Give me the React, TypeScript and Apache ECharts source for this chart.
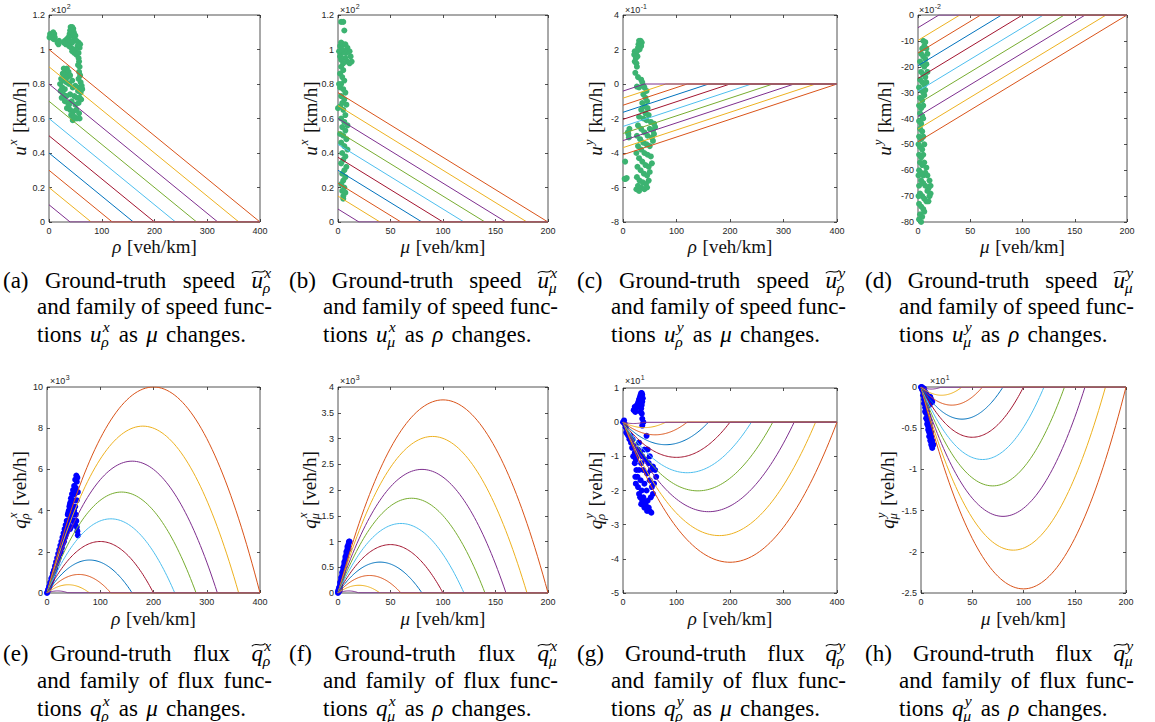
import React, { useEffect, useRef } from 'react';
import * as echarts from 'echarts';

// ---------- data ----------
const COLORS = ['#D95319', '#EDB120', '#7E2F8E', '#77AC30', '#4DBEEE', '#A2142F', '#0072BD', '#D95319', '#EDB120', '#7E2F8E'];
const GREEN = '#3CB371';
const BLUE = '#0000FF';

const RHO_ROOTS = [400, 360, 320, 280, 240, 200, 160, 120, 80, 40];
const MU_ROOTS = [200, 180, 160, 140, 120, 100, 80, 60, 40, 20];

const UX_RHO_INTERCEPTS = [1.0, 0.9, 0.8, 0.7, 0.6, 0.5, 0.4, 0.3, 0.2, 0.1];
const UX_MU_INTERCEPTS = [0.75, 0.675, 0.6, 0.525, 0.45, 0.375, 0.3, 0.225, 0.15, 0.075];
const UY_RHO_INTERCEPTS = [-4.1, -3.69, -3.28, -2.87, -2.46, -2.05, -1.64, -1.23, -0.82, -0.41];
const UY_MU_INTERCEPTS = [-49, -44.1, -39.2, -34.3, -29.4, -24.5, -19.6, -14.7, -9.8, -4.9];

const QX_RHO_PEAKS = [10, 8.1, 6.4, 4.9, 3.6, 2.5, 1.6, 0.9, 0.4, 0.1];
const QX_MU_PEAKS = [3.75, 3.04, 2.4, 1.84, 1.35, 0.94, 0.6, 0.34, 0.15, 0.04];
const QY_RHO_PEAKS = [-4.1, -3.32, -2.62, -2.01, -1.48, -1.03, -0.66, -0.37, -0.16, -0.04];
const QY_MU_PEAKS = [-2.45, -1.98, -1.57, -1.2, -0.88, -0.61, -0.39, -0.22, -0.1, -0.025];

const GT_UX_RHO = [
  [1, 1.07], [2, 1.09], [4, 1.08], [6, 1.09], [8, 1.1], [10, 1.09], [11, 1.07], [9, 1.06], [5, 1.07],
  [16, 1.04], [18, 1.03], [19, 1.05],
  [41, 1.13], [44, 1.13], [46, 1.12], [40, 1.11], [43, 1.11], [47, 1.1], [39, 1.09], [42, 1.09], [45, 1.08], [50, 1.08],
  [37, 1.07], [48, 1.06], [52, 1.05], [30, 1.05], [34, 1.06], [28, 1.04], [32, 1.03], [36, 1.04], [40, 1.05], [44, 1.04],
  [56, 1.04], [59, 1.03], [58, 1.01], [54, 1.02], [38, 1.02], [42, 1.01], [46, 1.0], [50, 1.0], [44, 0.99], [48, 0.98],
  [52, 0.97], [56, 0.98],
  [56, 0.95], [57, 0.93], [55, 0.91], [58, 0.9], [57, 0.87], [59, 0.85], [56, 0.83], [60, 0.81], [62, 0.79], [58, 0.78],
  [28, 0.89], [31, 0.88], [34, 0.89], [37, 0.87], [26, 0.86], [30, 0.85], [35, 0.84], [40, 0.85], [23, 0.83], [28, 0.82],
  [33, 0.81], [38, 0.8], [44, 0.82], [21, 0.8], [25, 0.78], [30, 0.77], [45, 0.78], [50, 0.79], [55, 0.76], [60, 0.75],
  [63, 0.77], [22, 0.76], [27, 0.74], [33, 0.73], [40, 0.74], [48, 0.73], [53, 0.72], [58, 0.72], [24, 0.72], [30, 0.7],
  [36, 0.69], [43, 0.7], [50, 0.68], [56, 0.69], [61, 0.71], [34, 0.66], [40, 0.65], [46, 0.64], [52, 0.65], [57, 0.63],
  [42, 0.62], [48, 0.61], [53, 0.6], [58, 0.6], [45, 0.59], [38, 0.68], [31, 0.73],
];

const GT_UX_MU = [
  [3, 1.16], [5, 1.16], [6, 1.11],
  [2, 1.02], [3, 1.04], [5, 1.03], [7, 1.03], [9, 1.01], [11, 0.99], [12, 0.96], [13, 0.93], [11, 0.92], [9, 0.93],
  [7, 0.95], [8, 0.98], [6, 0.99], [4, 0.98], [2, 0.96], [3, 0.94], [5, 0.92], [4, 1.0], [1, 0.99],
  [3, 0.9], [5, 0.88], [2, 0.86], [4, 0.84], [6, 0.82], [3, 0.8], [1, 0.8], [2, 0.78], [5, 0.77], [7, 0.75], [3, 0.73],
  [6, 0.71], [4, 0.69], [8, 0.68], [2, 0.67], [0, 0.66], [5, 0.65], [7, 0.62], [3, 0.6], [6, 0.58], [9, 0.56], [4, 0.55],
  [7, 0.53], [2, 0.51], [5, 0.5], [8, 0.48], [3, 0.46], [6, 0.44], [9, 0.42], [4, 0.4], [7, 0.38], [5, 0.36], [3, 0.34],
  [8, 0.32], [6, 0.3], [4, 0.28], [7, 0.26], [5, 0.24], [3, 0.22], [6, 0.2], [4, 0.18], [7, 0.17], [5, 0.15], [5, 0.135],
];

const GT_UY_RHO = [
  [30, 2.5], [33, 2.5], [35, 2.4], [29, 2.3], [32, 2.3], [34, 2.2], [28, 2.1], [31, 2.0], [22, 1.9], [24, 1.8], [21, 1.7],
  [26, 1.9], [27, 1.6], [24, 1.5], [22, 1.3], [25, 1.2], [26, 1.0], [23, 0.65], [28, 0.4], [34, 0.25], [36, 0.1],
  [26, -0.15], [30, -0.2], [38, -0.1],
  [40, -0.2], [44, -0.4], [38, -0.6], [42, -0.8], [45, -1.0], [36, -1.1], [40, -1.3], [46, -1.4], [34, -1.5], [42, -1.7],
  [48, -1.8], [30, -1.9], [38, -2.0], [44, -2.1], [52, -2.2], [58, -2.3], [60, -2.5], [56, -2.7], [50, -2.6], [28, -2.4],
  [34, -2.6], [40, -2.8], [46, -3.0], [54, -3.1], [58, -2.9], [26, -3.0], [32, -3.2], [38, -3.4], [44, -3.5], [50, -3.6],
  [56, -3.3], [28, -3.6], [34, -3.8], [40, -4.0], [46, -4.1], [52, -4.2], [25, -4.0], [30, -4.3], [36, -4.5], [42, -4.7],
  [48, -4.8], [54, -4.6], [27, -4.8], [33, -5.0], [39, -5.2], [45, -5.3], [50, -5.1], [26, -5.4], [31, -5.6], [37, -5.7],
  [43, -5.8], [48, -5.6], [28, -5.9], [34, -6.0], [40, -6.1], [45, -6.0], [25, -6.1], [30, -6.2],
  [12, -2.6], [10, -2.9], [11, -3.1], [9, -2.8], [4, -4.5], [3, -5.5], [5, -5.5], [7, -5.45],
];

const GT_UY_MU = [
  [5, -10], [7, -10.5], [6, -12], [8, -13], [4, -13], [3, -15], [5, -16], [7, -17], [9, -15], [2, -18], [4, -19], [6, -20],
  [8, -19], [3, -22], [5, -23], [7, -24], [9, -22], [2, -25], [4, -26], [6, -27], [8, -26], [1, -28], [3, -29], [5, -30],
  [7, -29], [2, -32], [4, -33], [6, -31],
  [1, -35], [3, -36], [5, -35], [2, -38], [4, -39], [1, -41], [3, -42], [5, -40], [2, -44], [4, -45], [1, -47], [3, -48],
  [5, -47], [0.5, -50], [2, -51], [4, -52], [6, -50], [1, -54], [3, -55], [5, -54],
  [2, -57], [4, -58], [6, -57], [8, -59], [1, -60], [3, -61], [5, -62], [7, -61], [9, -62], [11, -64], [12, -66], [10, -67],
  [12, -69], [11, -70], [9, -68], [7, -66], [5, -65], [3, -64], [1, -66], [2, -69], [4, -70], [6, -71], [8, -72], [10, -72],
  [1, -73], [3, -74], [5, -75], [2, -77], [4, -78], [1, -79], [3, -80], [6, -76], [0.5, -62], [0.5, -70],
];

const GT_QX_RHO = [
  [0, 0], [1, 0.05], [2, 0.15], [3, 0.2], [4, 0.3], [5, 0.35], [6, 0.5], [7, 0.5], [8, 0.7], [9, 0.65], [10, 0.8],
  [11, 0.95], [12, 0.9], [13, 1.1], [14, 1.05], [15, 1.3], [16, 1.2], [17, 1.5], [18, 1.4], [19, 1.7], [20, 1.55],
  [21, 1.9], [22, 1.7], [23, 2.1], [24, 1.9], [25, 2.3], [26, 2.0], [27, 2.5], [28, 2.2], [29, 2.7], [30, 2.4], [31, 2.9],
  [32, 2.5], [33, 3.1], [34, 2.7], [35, 3.3], [36, 2.9], [37, 3.5], [38, 3.0], [39, 3.8], [40, 3.3], [41, 4.0], [42, 3.5],
  [43, 4.3], [44, 3.7], [45, 4.6], [46, 3.9], [47, 4.8], [48, 4.2], [49, 5.0], [50, 4.5], [51, 5.2], [52, 4.8], [53, 5.5],
  [54, 5.1], [55, 5.7], [56, 5.4], [57, 5.6], [55, 3.5], [56, 3.2], [57, 3.0], [58, 2.8], [54, 3.8], [53, 4.2], [56, 4.5],
  [58, 4.9], [45, 3.2], [48, 3.5], [50, 3.8], [52, 3.5], [42, 4.2], [44, 4.4], [40, 3.9], [37, 3.2], [35, 2.8], [43, 3.1],
  [47, 4.5], [51, 4.0], [53, 3.3],
];

const GT_QX_MU = [
  [0, 0], [0.5, 0.02], [1, 0.05], [1, 0.1], [1.5, 0.12], [2, 0.15], [2, 0.2], [2.5, 0.22], [3, 0.25], [3, 0.3], [3.5, 0.3],
  [4, 0.35], [4, 0.4], [4.5, 0.4], [5, 0.45], [5, 0.5], [5.5, 0.5], [6, 0.55], [6, 0.6], [6.5, 0.6], [7, 0.65], [7, 0.7],
  [7.5, 0.7], [8, 0.75], [8, 0.8], [8.5, 0.8], [9, 0.85], [9, 0.9], [9.5, 0.9], [10, 0.95], [10.5, 1.0], [11, 1.0],
  [10, 0.85], [0, 0.03], [0.5, 0.06], [1.5, 0.04], [2, 0.08],
];

const GT_QY_RHO = [
  [0, 0], [2, 0.05], [3, -0.05], [5, -0.15], [6, -0.3], [8, -0.35], [10, -0.4],
  [22, 0.45], [24, 0.4], [20, 0.35], [23, 0.3], [26, 0.5], [28, 0.55], [29, 0.6], [30, 0.65], [31, 0.7], [32, 0.75],
  [33, 0.8], [34, 0.85], [35, 0.85], [36, 0.8], [37, 0.7], [36, 0.6], [35, 0.5], [34, 0.4], [33, 0.3], [35, 0.25],
  [36, 0.1], [38, 0.0], [36, -0.1], [30, 0.6], [28, 0.45],
  [12, -0.5], [15, -0.6], [17, -0.75], [14, -0.4], [18, -0.5], [20, -0.7], [22, -0.9], [19, -1.0], [24, -1.1], [22, -1.2],
  [26, -1.0], [28, -0.8], [30, -0.6], [32, -0.9], [34, -1.2], [25, -1.4], [23, -1.6], [24, -1.8], [27, -1.6], [30, -1.4],
  [36, -1.0], [40, -0.8], [42, -1.1], [38, -1.4], [33, -1.7], [28, -1.9], [30, -2.1], [35, -2.0], [40, -1.8], [45, -1.5],
  [48, -1.2], [52, -1.4], [56, -1.3], [60, -1.4], [62, -1.6], [58, -1.8], [54, -1.9], [50, -1.7], [44, -2.0], [38, -2.2],
  [34, -2.4], [42, -2.4], [46, -2.3], [52, -2.2], [56, -2.1], [48, -2.5], [50, -2.6], [53, -2.65], [45, -2.6], [40, -2.5],
  [36, -2.3], [32, -2.2], [44, -0.4], [46, -0.8], [50, -1.0],
];

const GT_QY_MU = [
  [0, 0], [0.5, -0.01], [1, 0], [1, -0.03], [2, -0.05], [3, -0.02], [4, -0.06], [5, -0.08], [6, -0.1], [7, -0.12],
  [8, -0.14], [9, -0.12], [10, -0.15], [11, -0.18], [9, -0.2], [8, -0.22], [2, -0.1], [3, -0.15], [3, -0.2], [4, -0.25],
  [4, -0.3], [5, -0.32], [5, -0.38], [6, -0.4], [6, -0.45], [7, -0.48], [7, -0.52], [8, -0.55], [8, -0.6], [9, -0.6],
  [9, -0.65], [10, -0.66], [10, -0.7], [11, -0.72], [11, -0.74], [10, -0.55], [9, -0.5], [7, -0.35], [6, -0.3], [5, -0.25],
  [8, -0.4], [9, -0.45], [10, -0.6], [11, -0.65], [12, -0.7],
];

const RHO_AXIS = [0, 400, 100];
const MU_AXIS = [0, 200, 50];

// ---------- styling / layout ----------
const SERIF = 'Liberation Serif';
const SANS = 'Liberation Sans';
const AX = '#262626';
const TXT = '#111111';

type Tok = { t: string; it?: boolean; sup?: string; sub?: string; tilde?: boolean };

function fontStr(size: number, italic: boolean, family: string) {
  return `${italic ? 'italic ' : ''}${size}px "${family}"`;
}
let ctx: CanvasRenderingContext2D | null = null;
function tw(text: string, size: number, italic: boolean, family = SERIF) {
  if (!ctx) ctx = document.createElement('canvas').getContext('2d');
  ctx!.font = fontStr(size, italic, family);
  return ctx!.measureText(text).width;
}
function txt(text: string, x: number, y: number, size: number, italic: boolean, color: string, family = SERIF, align = 'left') {
  return {
    type: 'text', x, y, silent: true,
    style: { text, font: fontStr(size, italic, family), fill: color, align, verticalAlign: 'middle' },
  };
}
const SUP = 0.68;
function tokW(k: Tok, fs: number) {
  const base = tw(k.t, fs, !!k.it);
  const s = fs * SUP;
  const ex = Math.max(k.sup ? tw(k.sup, s, true) + fs * 0.05 : 0, k.sub ? tw(k.sub, s, true) : 0);
  return base + (ex ? ex + fs * 0.04 : 0);
}
function tokEls(k: Tok, x: number, y: number, fs: number, color: string) {
  const els: any[] = [txt(k.t, x, y, fs, !!k.it, color)];
  const bw = tw(k.t, fs, !!k.it);
  const s = fs * SUP;
  if (k.tilde) {
    const cx = x + bw / 2 + fs * 0.06;
    const w = fs * 0.56;
    const a = fs * 0.05;
    const yt = y - fs * 0.36;
    els.push({
      type: 'bezierCurve', silent: true,
      shape: { x1: cx - w / 2, y1: yt + a, cpx1: cx - w / 6, cpy1: yt - 2.6 * a, cpx2: cx + w / 6, cpy2: yt + 2.6 * a, x2: cx + w / 2, y2: yt - a },
      style: { stroke: color, lineWidth: 1.1, fill: null, lineCap: 'round' },
    });
  }
  if (k.sup) els.push(txt(k.sup, x + bw + fs * 0.05, y - fs * 0.33, s, true, color));
  if (k.sub) els.push(txt(k.sub, x + bw - fs * 0.01, y + fs * 0.31, s, true, color));
  return els;
}
function placeTokens(toks: Tok[], fs: number, x0: number, gap: number, y: number, color: string) {
  const els: any[] = [];
  let x = x0;
  toks.forEach((k) => {
    els.push(...tokEls(k, x, y, fs, color));
    x += tokW(k, fs) + gap;
  });
  return els;
}
function naturalWidth(toks: Tok[], fs: number, gap: number) {
  return toks.reduce((s, k) => s + tokW(k, fs), 0) + gap * (toks.length - 1);
}
function justify(toks: Tok[], fs: number, x0: number, x1: number, y: number, color: string) {
  const sum = toks.reduce((s, k) => s + tokW(k, fs), 0);
  const gap = (x1 - x0 - sum) / (toks.length - 1);
  return placeTokens(toks, fs, x0, gap, y, color);
}

const W = (s: string): Tok => ({ t: s });

type Panel = {
  g: number[]; x: number[]; y: number[]; exp: string; expX: number; expY: number;
  kind: 'speed' | 'flux'; params: number[]; roots: number[]; gt: number[][]; gtColor: string;
  xname: string; yname: Tok; ynameX: number; nameY: number;
  cap: { lab: string; col: number; row: number; base: string; sup: string; sub: string; word: string; param: string };
};

const PANELS: Panel[] = [
  { g: [49, 15, 211, 207], x: RHO_AXIS, y: [0, 1.2, 0.2], exp: '2', expX: 51, expY: 10, kind: 'speed', params: UX_RHO_INTERCEPTS, roots: RHO_ROOTS, gt: GT_UX_RHO, gtColor: GREEN, xname: 'ρ', yname: { t: 'u', it: true, sup: 'x' }, ynameX: 19, nameY: 246, cap: { lab: '(a)', col: 0, row: 0, base: 'u', sup: 'x', sub: 'ρ', word: 'speed', param: 'μ' } },
  { g: [338, 15, 210, 207], x: MU_AXIS, y: [0, 1.2, 0.2], exp: '2', expX: 340, expY: 10, kind: 'speed', params: UX_MU_INTERCEPTS, roots: MU_ROOTS, gt: GT_UX_MU, gtColor: GREEN, xname: 'μ', yname: { t: 'u', it: true, sup: 'x' }, ynameX: 310, nameY: 246, cap: { lab: '(b)', col: 1, row: 0, base: 'u', sup: 'x', sub: 'μ', word: 'speed', param: 'ρ' } },
  { g: [623, 15, 214, 207], x: RHO_AXIS, y: [-8, 4, 2], exp: '-1', expX: 625, expY: 10, kind: 'speed', params: UY_RHO_INTERCEPTS, roots: RHO_ROOTS, gt: GT_UY_RHO, gtColor: GREEN, xname: 'ρ', yname: { t: 'u', it: true, sup: 'y' }, ynameX: 595, nameY: 246, cap: { lab: '(c)', col: 2, row: 0, base: 'u', sup: 'y', sub: 'ρ', word: 'speed', param: 'μ' } },
  { g: [918, 15, 209, 207], x: MU_AXIS, y: [-80, 0, 10], exp: '-2', expX: 919, expY: 10, kind: 'speed', params: UY_MU_INTERCEPTS, roots: MU_ROOTS, gt: GT_UY_MU, gtColor: GREEN, xname: 'μ', yname: { t: 'u', it: true, sup: 'y' }, ynameX: 884, nameY: 246, cap: { lab: '(d)', col: 3, row: 0, base: 'u', sup: 'y', sub: 'μ', word: 'speed', param: 'ρ' } },
  { g: [47, 387, 213, 206], x: RHO_AXIS, y: [0, 10, 2], exp: '3', expX: 50, expY: 381, kind: 'flux', params: QX_RHO_PEAKS, roots: RHO_ROOTS, gt: GT_QX_RHO, gtColor: BLUE, xname: 'ρ', yname: { t: 'q', it: true, sup: 'x', sub: 'ρ' }, ynameX: 19, nameY: 618, cap: { lab: '(e)', col: 0, row: 1, base: 'q', sup: 'x', sub: 'ρ', word: 'flux', param: 'μ' } },
  { g: [338, 387, 210, 206], x: MU_AXIS, y: [0, 4, 0.5], exp: '3', expX: 340, expY: 381, kind: 'flux', params: QX_MU_PEAKS, roots: MU_ROOTS, gt: GT_QX_MU, gtColor: BLUE, xname: 'μ', yname: { t: 'q', it: true, sup: 'x', sub: 'μ' }, ynameX: 309, nameY: 618, cap: { lab: '(f)', col: 1, row: 1, base: 'q', sup: 'x', sub: 'μ', word: 'flux', param: 'ρ' } },
  { g: [623, 388, 214, 205], x: RHO_AXIS, y: [-5, 1, 1], exp: '1', expX: 625, expY: 381, kind: 'flux', params: QY_RHO_PEAKS, roots: RHO_ROOTS, gt: GT_QY_RHO, gtColor: BLUE, xname: 'ρ', yname: { t: 'q', it: true, sup: 'y', sub: 'ρ' }, ynameX: 595, nameY: 618, cap: { lab: '(g)', col: 2, row: 1, base: 'q', sup: 'y', sub: 'ρ', word: 'flux', param: 'μ' } },
  { g: [921, 387, 205, 206], x: MU_AXIS, y: [-2.5, 0, 0.5], exp: '1', expX: 930, expY: 381, kind: 'flux', params: QY_MU_PEAKS, roots: MU_ROOTS, gt: GT_QY_MU, gtColor: BLUE, xname: 'μ', yname: { t: 'q', it: true, sup: 'y', sub: 'μ' }, ynameX: 887, nameY: 618, cap: { lab: '(h)', col: 3, row: 1, base: 'q', sup: 'y', sub: 'μ', word: 'flux', param: 'ρ' } },
];

const CAP_X0 = [3, 289, 577, 865];
const CAP_Y = [[280, 306, 334], [653, 680, 708]];
const CAP_FS = 23;
const NAME_FS = 19;

function fmt(v: number) {
  return String(Math.round(v * 1000) / 1000);
}

function buildSeries(p: Panel, i: number) {
  const out: any[] = [];
  out.push({
    type: 'scatter', xAxisIndex: 2 * i, yAxisIndex: 2 * i, data: p.gt, symbol: 'circle', symbolSize: 6,
    itemStyle: { color: p.gtColor, opacity: 1 }, silent: true, z: 2,
  });
  const xmax = p.x[1];
  p.params.forEach((v, k) => {
    const r = p.roots[k];
    let data: number[][];
    if (p.kind === 'speed') {
      data = [[0, v], [r, 0], [xmax, 0]];
    } else {
      data = [];
      const N = 80;
      for (let j = 0; j <= N; j++) {
        const xx = (r * j) / N;
        data.push([xx, 4 * v * (xx / r) * (1 - xx / r)]);
      }
      if (r < xmax) data.push([xmax, 0]);
    }
    out.push({
      type: 'line', xAxisIndex: 2 * i, yAxisIndex: 2 * i, data, showSymbol: false, symbol: 'none',
      lineStyle: { color: COLORS[k], width: 1 }, itemStyle: { color: COLORS[k] }, silent: true, z: 3,
    });
  });
  return out;
}

function buildGraphics() {
  const els: any[] = [];
  PANELS.forEach((p) => {
    const [gl, gt, gw, gh] = p.g;
    const xt: Tok[] = [{ t: p.xname, it: true }, W('[veh/km]')];
    const gap = NAME_FS * 0.3;
    const xw = naturalWidth(xt, NAME_FS, gap);
    els.push(...placeTokens(xt, NAME_FS, gl + gw / 2 - xw / 2, gap, p.nameY, TXT));
    const yt: Tok[] = [p.yname, W(p.kind === 'speed' ? '[km/h]' : '[veh/h]')];
    const yw = naturalWidth(yt, NAME_FS, gap);
    els.push({
      type: 'group', x: p.ynameX, y: gt + gh / 2, rotation: Math.PI / 2, silent: true,
      children: placeTokens(yt, NAME_FS, -yw / 2, gap, 0, TXT),
    });
    const ew = tw('×10', 9, false, SANS);
    els.push(txt('×10', p.expX, p.expY, 9, false, AX, SANS));
    els.push(txt(p.exp, p.expX + ew + 0.5, p.expY - 4, 7, false, AX, SANS));
    const c = p.cap;
    const x0 = CAP_X0[c.col];
    const xi = x0 + 34;
    const x1 = x0 + 269;
    const ys = CAP_Y[c.row];
    const l1: Tok[] = [W(c.lab), W('Ground-truth'), W(c.word), { t: c.base, it: true, tilde: true, sup: c.sup, sub: c.sub }];
    const l2: Tok[] = [W('and'), W('family'), W('of'), W(c.word), W('func-')];
    const l3: Tok[] = [W('tions'), { t: c.base, it: true, sup: c.sup, sub: c.sub }, W('as'), { t: c.param, it: true }, W('changes.')];
    els.push(...justify(l1, CAP_FS, x0, x1, ys[0], '#000'));
    els.push(...justify(l2, CAP_FS, xi, x1, ys[1], '#000'));
    els.push(...placeTokens(l3, CAP_FS, xi, CAP_FS * 0.36, ys[2], '#000'));
  });
  return els;
}

function buildOption() {
  const grid: any[] = [];
  const xAxis: any[] = [];
  const yAxis: any[] = [];
  let series: any[] = [];
  PANELS.forEach((p, i) => {
    grid.push({ left: p.g[0], top: p.g[1], width: p.g[2], height: p.g[3], show: true, borderColor: AX, borderWidth: 0.8, backgroundColor: 'rgba(0,0,0,0)' });
    const tick = { show: true, inside: true, length: 3, lineStyle: { color: AX, width: 0.8 } };
    const lab = { show: true, fontSize: 9, color: AX, fontFamily: SANS, formatter: fmt, showMinLabel: true, showMaxLabel: true };
    const line = { show: false, onZero: false };
    const bx = { type: 'value', gridIndex: i, min: p.x[0], max: p.x[1], interval: p.x[2], splitLine: { show: false }, axisLine: line, axisTick: tick };
    const by = { type: 'value', gridIndex: i, min: p.y[0], max: p.y[1], interval: p.y[2], splitLine: { show: false }, axisLine: line, axisTick: tick };
    xAxis.push({ ...bx, position: 'bottom', axisLabel: { ...lab, margin: 4 } });
    xAxis.push({ ...bx, position: 'top', axisLabel: { show: false } });
    yAxis.push({ ...by, position: 'left', axisLabel: { ...lab, margin: 4 } });
    yAxis.push({ ...by, position: 'right', axisLabel: { show: false } });
    series = series.concat(buildSeries(p, i));
  });
  return {
    animation: false,
    backgroundColor: '#ffffff',
    grid, xAxis, yAxis, series,
    graphic: { elements: buildGraphics() },
  };
}

export default function App() {
  const ref = useRef<HTMLDivElement>(null);
  useEffect(() => {
    if (!ref.current) return;
    const chart = echarts.init(ref.current, undefined, { renderer: 'svg' });
    chart.setOption(buildOption() as any);
    return () => chart.dispose();
  }, []);
  return <div ref={ref} style={{ position: 'absolute', left: 0, top: 0, width: 1155, height: 722, background: '#fff' }} />;
}
